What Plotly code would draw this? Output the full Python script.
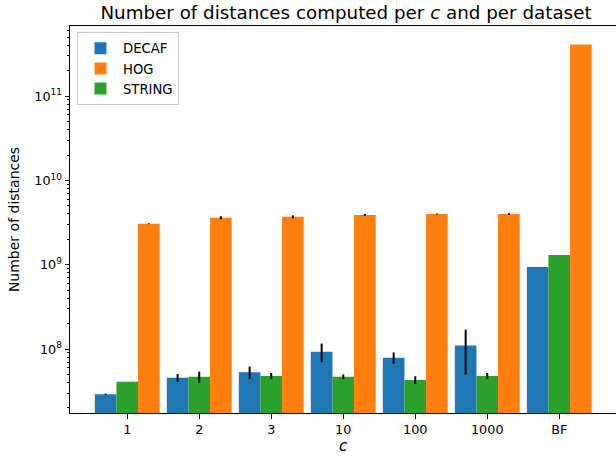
import plotly.graph_objects as go

categories = ["1", "2", "3", "10", "100", "1000", "BF"]

decaf = [2.9e7, 4.56e7, 5.3e7, 9.3e7, 7.9e7, 1.1e8, 9.4e8]
decaf_err = [0.05e7, 0.5e7, 0.9e7, 2.3e7, 1.2e7, 6.0e7, 0]

string_ = [4.1e7, 4.7e7, 4.8e7, 4.7e7, 4.3e7, 4.8e7, 1.30e9]
string_err = [0, 0.7e7, 0.4e7, 0.3e7, 0.45e7, 0.4e7, 0]

hog = [3.06e9, 3.61e9, 3.7e9, 3.9e9, 4.0e9, 4.0e9, 4.1e11]
hog_err = [0.03e9, 0.15e9, 0.15e9, 0.1e9, 0.05e9, 0.1e9, 0]

FONT = "DejaVu Sans"

def bar(name, vals, errs, color, rank):
    return go.Bar(
        name=name, x=categories, y=vals, marker_color=color,
        marker_line_width=0, legendrank=rank,
        error_y=dict(type="data", array=errs, visible=True, color="black",
                     thickness=2, width=0),
    )

fig = go.Figure([
    bar("DECAF", decaf, decaf_err, "#1f77b4", 1),
    bar("STRING", string_, string_err, "#2ca02c", 3),
    bar("HOG", hog, hog_err, "#ff7f0e", 2),
])

major = [8, 9, 10, 11]
minor_vals = [m * 10 ** e for e in range(7, 12) for m in range(2, 10)]

fig.update_layout(
    width=616, height=458,
    margin=dict(l=70, r=0, t=26, b=45),
    barmode="group", bargap=0.1, bargroupgap=0,
    plot_bgcolor="white", paper_bgcolor="white",
    font=dict(family=FONT, size=12.8, color="black"),
    title=dict(text="Number of distances computed per <i>c</i> and per dataset",
               x=346 / 616, xanchor="center", y=1 - 13 / 458, yanchor="middle",
               font=dict(size=18.3)),
    legend=dict(x=0.0128, y=0.984, xanchor="left", yanchor="top",
                bordercolor="#cccccc", borderwidth=1, bgcolor="rgba(255,255,255,0.8)",
                font=dict(size=13.2), traceorder="normal", itemwidth=35),
    xaxis=dict(range=[-0.795, 6.788], showline=True, linecolor="black", linewidth=1,
               mirror=True, ticks="outside", ticklen=4.5, tickcolor="black",
               showgrid=False,
               title=dict(text="<i>c</i>", standoff=4, font=dict(size=15))),
    yaxis=dict(type="log", range=[7.241, 11.832], showline=True, linecolor="black",
               linewidth=1, ticks="outside", ticklen=4.5, tickcolor="black",
               showgrid=False, tickmode="array",
               tickvals=[10 ** e for e in major],
               ticktext=["10<sup>%d</sup>" % e for e in major],
               minor=dict(tickmode="array", tickvals=minor_vals, ticks="outside",
                          ticklen=2.5, tickcolor="black", showgrid=False),
               title=dict(text="Number of distances", standoff=11,
                          font=dict(size=14))),
)

fig.write_html("out.html")
